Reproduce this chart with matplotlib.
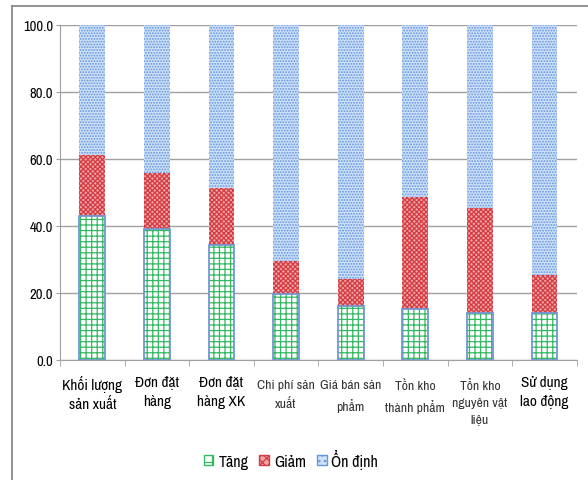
import matplotlib
matplotlib.use("Agg")
import matplotlib.pyplot as plt
from matplotlib import font_manager
from matplotlib.patches import Patch
from matplotlib.lines import Line2D
import numpy as np

categories = ["Khối lượng\nsản xuất", "Đơn đặt\nhàng", "Đơn đặt\nhàng XK",
              "Chi phí sản\nxuất", "Giá bán sản\nphẩm", "Tồn kho\nthành phẩm",
              "Tổn kho\nnguyên vật\nliệu", "Sử dụng\nlao động"]
tang = [43.1, 39.1, 34.4, 19.6, 16.0, 15.3, 14.1, 14.1]
giam = [18.2, 16.8, 16.9, 10.0, 8.2, 33.3, 31.3, 11.3]
on_dinh = [100 - a - b for a, b in zip(tang, giam)]
series_names = ['Tăng', 'Giảm', 'Ổn định']

# a condensed sans face if one is around, else the regular one
installed = {f.name for f in font_manager.fontManager.ttflist}
narrow = [n for n in ['Liberation Sans Narrow', 'Arial Narrow', 'Archivo Narrow',
                      'Roboto Condensed', 'Encode Sans Condensed', 'Open Sans Condensed']
          if n in installed]
plt.rcParams['font.family'] = narrow[:1] + ['Liberation Sans', 'DejaVu Sans']
plt.rcParams['hatch.linewidth'] = 0.9

x = np.arange(len(categories))
w = 0.4

fig = plt.figure(figsize=(5.88, 4.81), dpi=100)
ax = fig.add_axes([0.102, 0.2495, 0.879, 0.6965])

def hatched(bottom, height, face, hatch, hcolor, edge=None, lw=0):
    ax.bar(x, height, w, bottom=bottom, color=face, linewidth=0, zorder=2)
    ax.bar(x, height, w, bottom=bottom, color='none', hatch=hatch,
           edgecolor=hcolor, linewidth=0, zorder=3)
    if edge is not None:
        ax.bar(x, height, w, bottom=bottom, color='none', edgecolor=edge,
               linewidth=lw, zorder=4)

green = ('white', '+++', '#35B862')
red = ('#F0A4A4', 'xxxxxxx', '#D43C45')
blue = ('#CFE0F7', '......', '#6296E0')

bot2 = np.array(tang)
bot3 = bot2 + np.array(giam)
hatched(0, tang, *green, edge='#7197D2', lw=1.3)
hatched(bot2, giam, *red)
hatched(bot3, on_dinh, *blue)

ax.set_ylim(0, 100)
ax.set_xlim(-0.5, len(categories) - 0.5)
ax.set_yticks(np.arange(0, 101, 20))
ax.set_yticklabels([f"{v:.1f}" for v in np.arange(0, 101, 20)], fontsize=10.5)
ax.yaxis.grid(True, color='#a0a0a0', linewidth=1)
ax.set_axisbelow(True)
ax.tick_params(axis='y', length=3, color='#a0a0a0', pad=2)

ax.set_xticks(x)
ax.set_xticklabels(categories, fontsize=11, linespacing=1.45)
ax.tick_params(axis='x', length=0, pad=11)
ax.set_xticks(np.arange(-0.5, len(categories), 1), minor=True)
ax.tick_params(axis='x', which='minor', length=4, color='#a0a0a0')

# the longer middle labels are set a size smaller, same line pitch
for i, tick in enumerate(ax.xaxis.get_major_ticks()):
    if 3 <= i <= 6:
        lab = tick.label1
        lab.set_fontsize(9.8)
        lab.set_linespacing(1.62)
        lab.set_color('#333333')
        tick.set_pad(14)

for s in ['top', 'right']:
    ax.spines[s].set_visible(False)
for s in ['left', 'bottom']:
    ax.spines[s].set_color('#a0a0a0')

handles = [
    Patch(facecolor='white', edgecolor='#35B862', hatch='++'),
    Patch(facecolor='#F0A4A4', edgecolor='#D43C45', hatch='xxxx'),
    Patch(facecolor='#CFE0F7', edgecolor='#6296E0', hatch='...'),
]
fig.legend(handles, series_names, loc='center', bbox_to_anchor=(0.495, 0.044),
           ncol=3, frameon=False, fontsize=11.5, handlelength=0.6,
           handleheight=0.6, handletextpad=0.3, columnspacing=0.7)

# chart frame
fig.add_artist(Line2D([0.0204, 0.0204], [0.0, 0.985], color='#808080', lw=1.2))
fig.add_artist(Line2D([0.0204, 1.0], [0.985, 0.985], color='#808080', lw=1.2))

fig.savefig('out.png', dpi=100)
